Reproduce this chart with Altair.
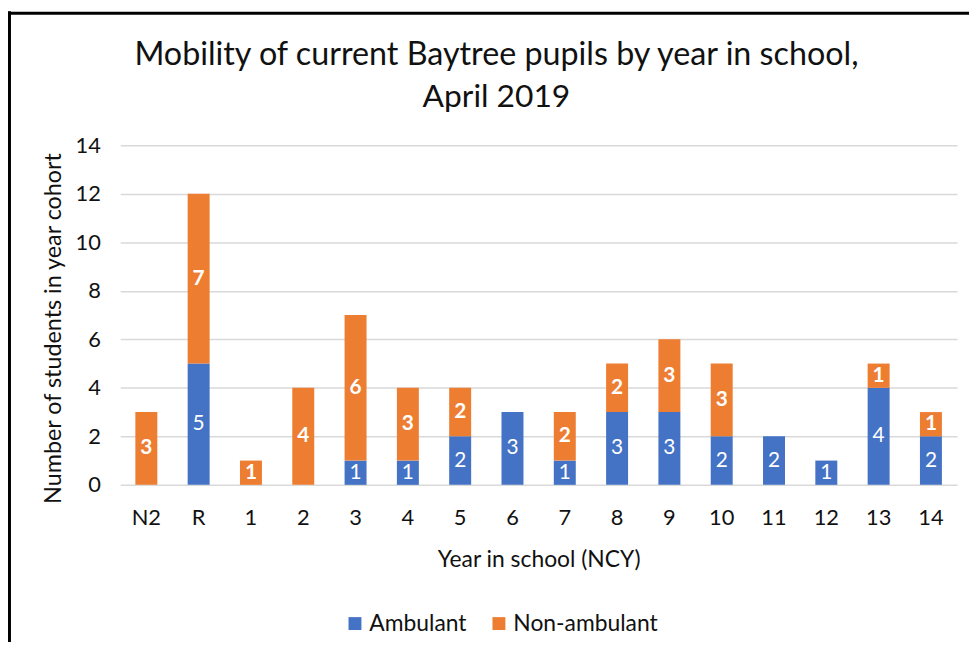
import altair as alt
import pandas as pd

categories = ["N2", "R", "1", "2", "3", "4", "5", "6", "7", "8", "9", "10", "11", "12", "13", "14"]
ambulant = [0, 5, 0, 0, 1, 1, 2, 3, 1, 3, 3, 2, 2, 1, 4, 2]
non_ambulant = [3, 7, 1, 4, 6, 3, 2, 0, 2, 2, 3, 3, 0, 0, 1, 1]
series = ["Ambulant", "Non-ambulant"]
colors = ["#4472C4", "#ED7D31"]
y_ticks = [0, 2, 4, 6, 8, 10, 12, 14]
title_lines = ["Mobility of current Baytree pupils by year in school,", "April 2019"]
x_title = "Year in school (NCY)"
y_title = "Number of students in year cohort"

rows = []
for i, c in enumerate(categories):
    rows.append({"cat": c, "series": series[0], "v": ambulant[i], "ord": 0})
    rows.append({"cat": c, "series": series[1], "v": non_ambulant[i], "ord": 1})
df = pd.DataFrame(rows)

FONT = "Lato"
TXT = "#111111"

x_enc = alt.X(
    "cat:N", sort=categories,
    scale=alt.Scale(paddingInner=0.58, paddingOuter=0.29),
    axis=alt.Axis(title=x_title, labelAngle=0, ticks=False, domain=False,
                  labelPadding=23, titlePadding=20),
)
y_enc = alt.Y(
    "v:Q", stack="zero",
    scale=alt.Scale(domain=[0, 14], nice=False),
    axis=alt.Axis(title=y_title, values=y_ticks, ticks=False, domain=False,
                  labelPadding=20, titlePadding=10, titleY=184, titleFontSize=23.5,
                  grid=True),
)

base = alt.Chart(df)

bars = base.mark_bar().encode(
    x=x_enc,
    y=y_enc,
    color=alt.Color(
        "series:N",
        scale=alt.Scale(domain=series, range=colors),
        legend=alt.Legend(
            title=None, orient="none", direction="horizontal",
            legendX=225, legendY=470, symbolType="square", symbolSize=169,
            symbolStrokeWidth=0, labelFontSize=23, labelFont=FONT, labelColor=TXT,
            labelOffset=3, columnPadding=21,
        ),
    ),
    order=alt.Order("ord:Q"),
)

stacked = base.transform_filter("datum.v > 0").transform_stack(
    stack="v", groupby=["cat"], as_=["v0", "v1"],
    sort=[alt.SortField(field="ord", order="ascending")],
).transform_calculate(mid="(datum.v0 + datum.v1) / 2")

lab_a = stacked.transform_filter(f"datum.series == '{series[0]}'").mark_text(
    color="white", font=FONT, fontSize=21, fontWeight="normal", baseline="middle"
).encode(x=alt.X("cat:N", sort=categories), y=alt.Y("mid:Q"), text="v:Q")

lab_n = stacked.transform_filter(f"datum.series == '{series[1]}'").mark_text(
    color="white", font=FONT, fontSize=21, fontWeight="bold", baseline="middle"
).encode(x=alt.X("cat:N", sort=categories), y=alt.Y("mid:Q"), text="v:Q")

frame_df = pd.DataFrame({"k": [0]})
frame_left = alt.Chart(frame_df).mark_rule(color="black", strokeWidth=3).encode(
    x=alt.value(-111.5), y=alt.value(-135), y2=alt.value(700)
)
frame_top = alt.Chart(frame_df).mark_rule(color="black", strokeWidth=3).encode(
    x=alt.value(-113), x2=alt.value(900), y=alt.value(-133)
)

title1 = alt.Chart(pd.DataFrame({"t": [title_lines[0]]})).mark_text(
    font=FONT, fontSize=32.5, color=TXT, align="center", baseline="middle"
).encode(text="t:N", x=alt.value(379), y=alt.value(-91))
title2 = alt.Chart(pd.DataFrame({"t": [title_lines[1]]})).mark_text(
    font=FONT, fontSize=32, color=TXT, align="center", baseline="middle"
).encode(text="t:N", x=alt.value(379), y=alt.value(-49))

chart = alt.layer(bars, lab_a, lab_n, frame_left, frame_top, title1, title2).properties(
    width=843, height=342,
    autosize=alt.AutoSizeParams(type="none"),
    padding={"left": 113, "top": 136, "right": 12, "bottom": 156},
).configure_view(stroke=None).configure_axis(
    labelFont=FONT, labelFontSize=22, labelColor=TXT,
    titleFont=FONT, titleFontSize=23, titleFontWeight="normal", titleColor=TXT,
    gridColor="#D9D9D9", gridWidth=1.5,
)

chart.save("out.html", embed_options={"renderer": "svg", "actions": False})
